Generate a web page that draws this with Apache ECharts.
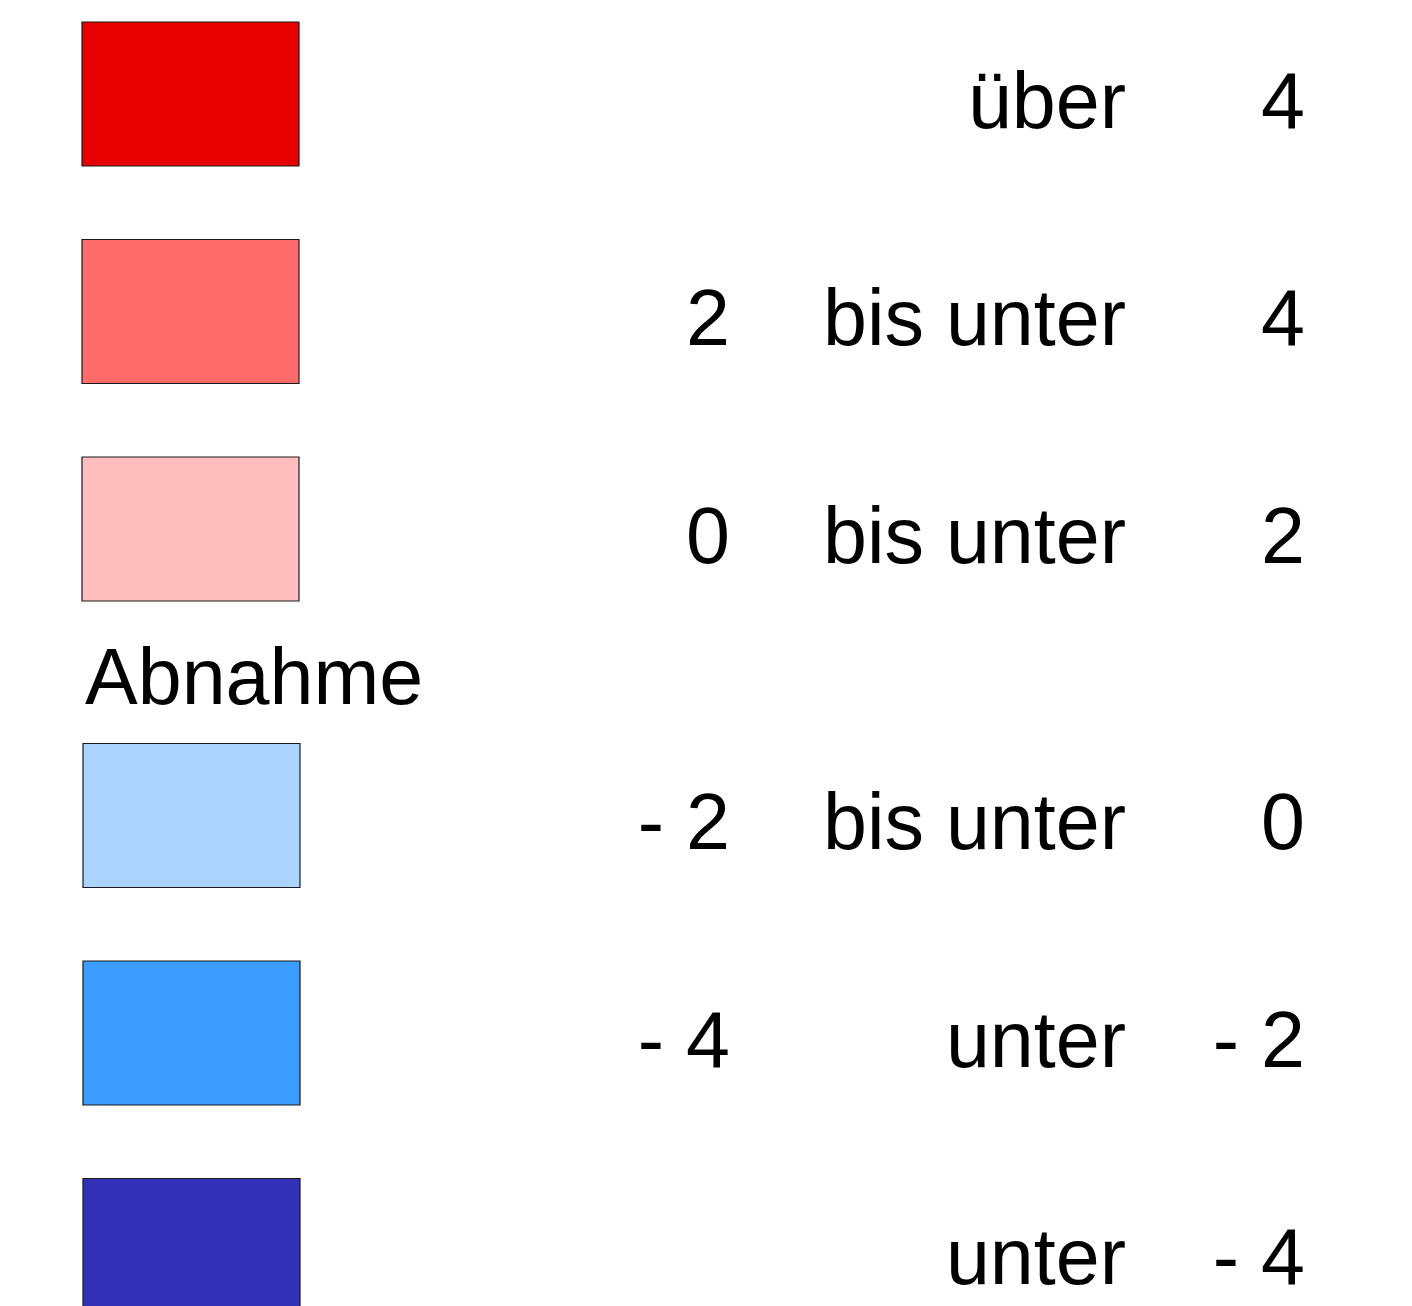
<!DOCTYPE html>
<html>
<head>
<meta charset="utf-8">
<script src="https://cdn.jsdelivr.net/npm/echarts@6/dist/echarts.min.js"></script>
<style>html,body{margin:0;padding:0;background:#fff}#c{width:1412px;height:1306px}</style>
</head>
<body>
<div id="c"></div>
<script>
// Legend classes (top to bottom)
var classIds = ['c1', 'c2', 'c3', 'c4', 'c5', 'c6'];
var lowerBounds = ['', '2', '0', '- 2', '- 4', ''];
var connectors = ['über', 'bis unter', 'bis unter', 'bis unter', 'unter', 'unter'];
var upperBounds = ['4', '4', '2', '0', '- 2', '- 4'];
var classColors = ['#E60000', '#FF6A6A', '#FFBEBE', '#AAD4FF', '#3D9DFF', '#3331B8'];
var groupHeader = 'Abnahme';
var headerBeforeIndex = 3;

var chart = echarts.init(document.getElementById('c'), null, {renderer: 'canvas'});
var FONT = '"Liberation Sans", Arial, Helvetica, sans-serif';
var FS = 79;
var BOX_W = 217, BOX_H = 144, BOX_X = 82;
var GROUP_GAP = 69;
var TEXT_DY = 12;

function txt(x, y, s, align) {
  return {
    type: 'text',
    style: {
      x: x, y: y, text: s, fill: '#000',
      font: FS + 'px ' + FONT,
      textAlign: align, textVerticalAlign: 'middle'
    }
  };
}

chart.setOption({
  animation: false,
  grid: {left: 0, right: 0, top: 94, bottom: 124.5},
  xAxis: {type: 'value', min: 0, max: 1, show: false},
  yAxis: {type: 'category', data: classIds, inverse: true, boundaryGap: false, show: false},
  series: [{
    type: 'custom',
    coordinateSystem: 'cartesian2d',
    data: classIds.map(function (id, i) { return [0, i]; }),
    renderItem: function (params, api) {
      var i = api.value(1);
      var p = api.coord([0, i]);
      var cy = p[1] + (i >= headerBeforeIndex ? GROUP_GAP : 0);
      var bx = BOX_X + (i >= headerBeforeIndex ? 1 : 0);
      var children = [
        {
          type: 'rect',
          shape: {x: bx, y: cy - BOX_H / 2, width: BOX_W, height: BOX_H},
          style: {fill: classColors[i], stroke: '#1a1a1a', lineWidth: 1.2}
        },
        txt(730, cy + TEXT_DY, lowerBounds[i], 'right'),
        txt(1126, cy + TEXT_DY, connectors[i], 'right'),
        txt(1305, cy + TEXT_DY, upperBounds[i], 'right')
      ];
      if (i === headerBeforeIndex) {
        children.push(txt(85, cy - BOX_H / 2 - 61, groupHeader, 'left'));
      }
      return {type: 'group', children: children};
    }
  }]
});
</script>
</body>
</html>
